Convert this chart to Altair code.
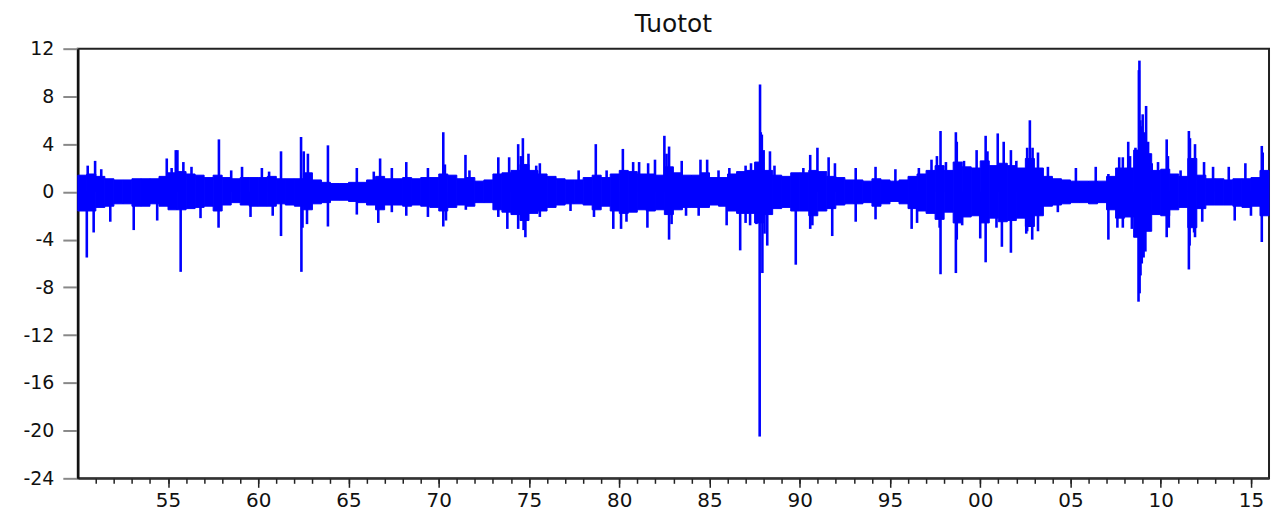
import altair as alt
import pandas as pd

# Half-year bins: dense core band of daily returns (upper / lower edge, %)
core_hi = [1.4, 1.5, 1.3, 1.1, 1.0, 1.0, 1.1, 1.1, 1.1, 1.3,
           1.6, 1.7, 1.5, 1.4, 1.2, 1.4, 1.2, 1.1, 1.2, 1.2,
           1.2, 1.3, 1.1, 1.1, 1.1, 1.6, 1.0, 0.8, 0.7, 0.7,
           0.8, 0.8, 1.0, 1.3, 1.1, 1.1, 1.2, 1.1, 1.2, 1.2,
           1.5, 1.4, 1.1, 1.2, 0.9, 1.0, 1.5, 1.6, 1.8, 2.3,
           1.8, 1.5, 1.3, 1.1, 1.0, 1.0, 1.2, 1.4, 1.2, 1.5,
           1.8, 1.7, 1.5, 1.5, 1.4, 2.1, 1.6, 1.4, 1.4, 1.6,
           1.2, 1.2, 1.5, 1.7, 1.8, 2.5, 1.8, 1.4, 1.3, 1.6,
           1.6, 1.8, 1.7, 1.3, 1.2, 1.0, 1.0, 0.9, 1.1, 1.0,
           0.9, 1.0, 1.3, 1.5, 1.8, 2.2, 1.8, 2.5, 2.1, 2.0,
           2.6, 2.2, 2.4, 2.2, 2.0, 2.8, 2.0, 1.3, 1.1, 1.0,
           0.9, 0.9, 0.9, 0.9, 1.3, 2.0, 2.0, 3.5, 3.2, 1.8,
           1.9, 1.5, 1.3, 2.8, 1.4, 1.1, 1.1, 1.0, 1.1, 1.1,
           1.2, 1.8]
core_lo = [-1.6, -1.6, -1.3, -1.2, -1.0, -1.0, -1.2, -1.2, -1.0, -1.2,
           -1.5, -1.5, -1.4, -1.3, -1.2, -1.6, -1.1, -0.9, -1.1, -1.2,
           -1.2, -1.2, -1.0, -1.1, -1.2, -1.5, -1.0, -0.9, -0.7, -0.7,
           -0.8, -0.9, -1.1, -1.5, -1.1, -1.1, -1.2, -1.1, -1.2, -1.3,
           -1.6, -1.3, -1.1, -1.2, -0.9, -0.9, -1.5, -1.7, -1.9, -2.4,
           -1.8, -1.6, -1.3, -1.1, -1.0, -1.0, -1.1, -1.5, -1.2, -1.6,
           -1.8, -1.7, -1.5, -1.6, -1.5, -1.9, -1.5, -1.3, -1.3, -1.3,
           -1.1, -1.2, -1.6, -1.8, -1.8, -2.6, -1.9, -1.4, -1.3, -1.6,
           -1.6, -2.0, -1.6, -1.4, -1.1, -1.0, -1.0, -0.9, -1.2, -1.0,
           -0.8, -1.0, -1.4, -1.6, -1.8, -2.3, -1.7, -2.6, -2.1, -2.0,
           -2.6, -2.2, -2.5, -2.4, -2.2, -2.9, -2.0, -1.2, -1.1, -1.0,
           -0.9, -0.9, -1.0, -0.9, -1.5, -2.2, -2.1, -3.8, -3.3, -1.9,
           -2.0, -1.5, -1.3, -3.0, -1.4, -1.1, -1.1, -1.1, -1.2, -1.3,
           -1.2, -2.0]
core_start = [1950 + 0.5 * i for i in range(len(core_hi))]

# Individual extreme days (decimal year, return %)
spike_years = [
    1950.55, 1950.96, 1951.3, 1954.93, 1955.2, 1955.43, 1955.52, 1955.85, 1956.3, 1957.82,
    1958.5, 1959.1, 1960.2, 1960.6, 1961.26, 1962.37, 1962.52, 1962.75, 1963.86, 1965.46,
    1966.4, 1966.75, 1967.4, 1968.2, 1969.4, 1970.25, 1970.34, 1971.48, 1971.7, 1973.3,
    1973.9, 1974.4, 1974.55, 1974.66, 1974.97, 1975.4, 1975.6, 1977.75, 1978.7, 1979.3,
    1980.2, 1980.77, 1981.1, 1981.6, 1981.98, 1982.5, 1982.62, 1982.76, 1983.46, 1984.5,
    1984.87, 1985.5, 1986.1, 1987.0, 1987.3, 1987.8, 1987.84, 1987.9, 1988.0, 1988.35,
    1988.6, 1990.2, 1990.58, 1990.98, 1991.6, 1991.95, 1993.1, 1994.2, 1995.3, 1996.6,
    1997.3, 1997.6, 1997.8, 1998.1, 1998.65, 1998.7, 1999.1, 1999.8, 2000.3, 2000.4,
    2000.97, 2001.3, 2001.7, 2002.0, 2002.6, 2002.75, 2002.9, 2003.2, 2003.75, 2005.3,
    2006.4, 2007.1, 2007.7, 2007.9, 2008.2, 2008.3, 2008.6, 2008.79, 2008.82, 2008.87,
    2008.92, 2009.0, 2009.08, 2009.19, 2009.3, 2009.5, 2009.85, 2010.33, 2010.4, 2011.1,
    2011.56, 2011.62, 2011.9, 2012.4, 2012.9, 2013.77, 2014.69, 2015.6, 2015.65,
    1950.5, 1950.88, 1951.8, 1953.1, 1954.4, 1955.7, 1956.8, 1957.8, 1959.57, 1960.8,
    1961.26, 1962.39, 1962.45, 1962.7, 1963.86, 1965.46, 1966.65, 1967.4, 1968.2, 1969.4,
    1970.25, 1970.4, 1971.5, 1973.3, 1973.8, 1974.4, 1974.8, 1974.7, 1975.6, 1977.3,
    1978.6, 1979.67, 1980.1, 1980.4, 1981.56, 1982.76, 1982.9, 1983.7, 1984.4, 1985.95,
    1986.7, 1987.0, 1987.25, 1987.6, 1987.78, 1987.93, 1988.05, 1988.2, 1989.78, 1990.58,
    1990.7, 1991.8, 1993.1, 1994.2, 1996.2, 1996.5, 1997.75, 1997.8, 1998.65, 1998.7,
    1999.0, 2000.0, 2000.3, 2000.9, 2001.2, 2001.7, 2002.55, 2002.6, 2002.88, 2003.2,
    2004.3, 2007.1, 2007.6, 2007.9, 2008.4, 2008.77, 2008.83, 2008.88, 2008.95, 2009.05,
    2009.15, 2009.3, 2010.33, 2010.45, 2011.56, 2011.6, 2011.85, 2011.9, 2012.3, 2014.1,
    2015.0, 2015.6,
]
spike_values = [
    2.2, 2.6, 1.9, 2.8, 2.0, 3.5, 3.5, 2.5, 2.1, 4.4,
    1.8, 2.1, 2.0, 1.7, 3.4, 4.6, 3.4, 3.2, 3.9, 2.0,
    1.7, 2.8, 2.0, 2.5, 2.0, 5.0, 2.3, 3.1, 1.8, 2.9,
    2.9, 4.0, 3.0, 4.5, 3.2, 2.2, 2.4, 1.8, 4.0, 1.8,
    3.6, 2.5, 2.5, 2.4, 2.7, 4.7, 3.2, 3.8, 2.6, 2.7,
    2.7, 1.8, 2.0, 2.2, 2.4, 9.0, 5.0, 4.8, 3.5, 3.4,
    2.2, 2.0, 3.1, 3.7, 2.9, 2.4, 2.0, 2.1, 1.9, 2.0,
    2.7, 3.0, 5.1, 2.5, 5.0, 4.2, 2.6, 3.5, 4.7, 3.4,
    4.9, 4.2, 3.5, 2.6, 3.7, 6.0, 3.7, 3.3, 2.1, 2.0,
    2.1, 1.5, 2.9, 2.9, 4.2, 3.0, 3.7, 10.2, 11.0, 6.0,
    5.5, 6.5, 5.0, 7.2, 4.2, 2.4, 2.5, 4.4, 3.0, 1.8,
    5.1, 4.5, 4.0, 2.5, 2.1, 2.1, 2.4, 3.85, 3.3,
    -5.5, -3.4, -2.5, -3.2, -2.4, -6.7, -2.2, -3.0, -2.1, -2.0,
    -3.7, -6.7, -3.0, -2.7, -2.9, -1.9, -2.6, -1.7, -2.0, -2.1,
    -2.9, -2.4, -1.5, -2.1, -3.1, -3.1, -3.8, -3.2, -2.1, -1.6,
    -2.1, -3.1, -3.1, -2.5, -3.0, -4.0, -2.7, -2.0, -2.0, -2.8,
    -4.9, -2.6, -2.8, -2.7, -20.5, -6.8, -3.5, -4.5, -6.1, -3.1,
    -2.8, -3.7, -2.5, -2.3, -3.1, -2.6, -3.0, -6.9, -6.8, -4.0,
    -2.8, -3.9, -5.9, -3.0, -4.6, -5.1, -3.5, -3.3, -4.0, -3.3,
    -1.7, -4.0, -3.0, -3.0, -3.1, -9.2, -8.5, -7.0, -6.0, -5.5,
    -5.0, -3.0, -3.8, -3.0, -6.5, -4.5, -3.4, -3.8, -2.5, -2.4,
    -2.0, -4.2,
]

y_ticks = [12, 8, 4, 0, -4, -8, -12, -16, -20, -24]
x_major = [1955, 1960, 1965, 1970, 1975, 1980, 1985, 1990, 1995, 2000, 2005, 2010, 2015]
x_minor = list(range(1951, 2016))

core_df = pd.DataFrame({"x": core_start,
                        "x2": [s + 0.5 for s in core_start],
                        "hi": core_hi, "lo": core_lo})
spike_df = pd.DataFrame({"x": spike_years, "v": spike_values, "z": [0.0] * len(spike_years)})
minor_df = pd.DataFrame({"x": [1950.0]})

BLUE = "#0000FF"
FONT = "DejaVu Sans"
xscale = alt.Scale(domain=[1950, 2016], nice=False, zero=False)
yscale = alt.Scale(domain=[-24, 12], nice=False)

major_axis = alt.Axis(values=x_major, orient="bottom", title=None, grid=False,
                      labelExpr="format(datum.value % 100, '02d')",
                      tickSize=9, tickColor="#222", tickWidth=1.5,
                      domainColor="#333", domainWidth=2,
                      labelFont=FONT, labelFontSize=20, labelColor="#111",
                      labelPadding=3, labelFlush=False, labelOverlap=False)
minor_axis = alt.Axis(values=x_minor, orient="bottom", title=None, grid=False,
                      labels=False, tickSize=5, tickColor="#222", tickWidth=1.5,
                      domain=False)
y_axis = alt.Axis(values=y_ticks, title=None, grid=False, tickSize=15,
                  tickColor="#888", tickWidth=2, domainColor="#111", domainWidth=2.5,
                  labelExpr="'' + datum.value",
                  labelFont=FONT, labelFontSize=19, labelColor="#111", labelPadding=9,
                  labelFlush=False, labelOverlap=False)

core = alt.Chart(core_df).mark_rect(color=BLUE, stroke=BLUE, strokeWidth=1).encode(
    x=alt.X("x:Q", scale=xscale, axis=major_axis),
    x2="x2:Q",
    y=alt.Y("hi:Q", scale=yscale, axis=y_axis),
    y2="lo:Q",
)

spikes = alt.Chart(spike_df).mark_rule(color=BLUE, strokeWidth=2.6).encode(
    x=alt.X("x:Q", scale=xscale, axis=None),
    y=alt.Y("z:Q", scale=yscale, axis=y_axis),
    y2="v:Q",
)

minor = alt.Chart(minor_df).mark_rule(opacity=0).encode(
    x=alt.X("x:Q", scale=xscale, axis=minor_axis),
)

chart = alt.layer(core, spikes, minor).resolve_axis(x="independent").properties(
    width=1195, height=431,
    title=alt.TitleParams("Tuotot", font=FONT, fontSize=25, fontWeight="normal",
                          color="#111", anchor="middle", offset=3),
    autosize=alt.AutoSizeParams(type="none"),
    padding={"left": 70, "top": 40, "right": 5, "bottom": 40},
).configure(background="white").configure_view(stroke="#222", strokeWidth=2)

chart.save("out.html", embed_options={"renderer": "svg", "actions": False})
